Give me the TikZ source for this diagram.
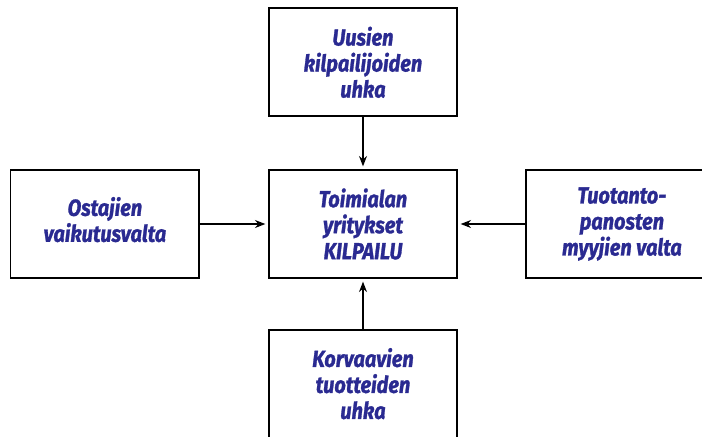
\documentclass[tikz,border=0pt]{standalone}
\usepackage{fontspec}
\newfontfamily\forcefont[FakeStretch=0.86, FakeBold=1.2]{Fira Sans}
\usetikzlibrary{positioning, arrows.meta, shadows}
\definecolor{forceblue}{RGB}{42,42,145}

\begin{document}
\begin{tikzpicture}[
        node distance=1.3cm,
        % --- STYLES ---
        force/.style={
                draw=black,
                line width=1.2pt,
                fill=white,
                align=center,
                minimum width=4.7cm,
                minimum height=2.7cm,
                drop shadow={opacity=0.2, shadow xshift=0.7pt, shadow yshift=-0.7pt},
                text=forceblue,
                font=\forcefont\bfseries\itshape\fontsize{16.5}{18.5}\selectfont
            },
        push/.style={
                -{Stealth[length=2.6mm, width=2mm]},
                line width=0.9pt,
                shorten >=2pt
            }
    ]

    % 0. Frame of the picture
    \useasboundingbox (-9.075,-5.3) rectangle (8.475,5.6);

    % 1. Central box
    \node[force] (rivalry) {Toimialan\\yritykset\\KILPAILU};

    % 2. The four forces around it
    \node[force, above=1.3cm of rivalry] (entrants) {Uusien\\kilpailijoiden\\uhka};
    \node[force, left=1.7cm of rivalry, minimum width=4.72cm] (buyers) {Ostajien\\vaikutusvalta\\[-12pt]};
    \node[force, right=1.68cm of rivalry, minimum width=4.8cm] (suppliers) {Tuotanto-\\panosten\\myyjien valta};
    \node[force, below=1.25cm of rivalry] (substitutes) {Korvaavien\\tuotteiden\\uhka};

    % 3. Arrows towards the centre
    \draw[push] (entrants) -- (rivalry);
    \draw[push] (buyers) -- (rivalry);
    \draw[push] (suppliers) -- (rivalry);
    \draw[push] (substitutes) -- (rivalry);

\end{tikzpicture}
\end{document}
